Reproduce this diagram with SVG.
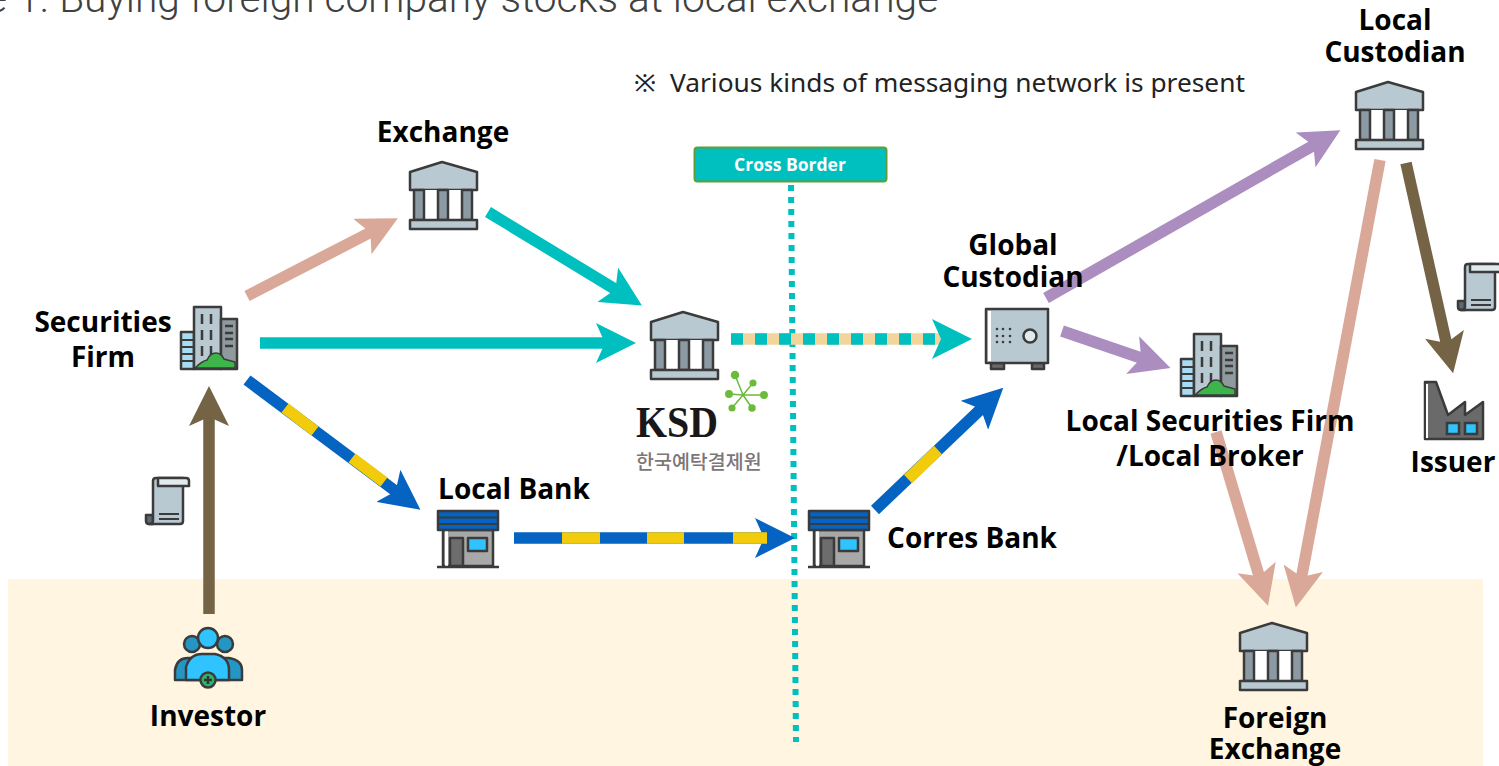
<svg xmlns="http://www.w3.org/2000/svg" width="1499" height="766" viewBox="0 0 1499 766">
<style>
text{font-family:"Open Sans","Noto Sans CJK KR",sans-serif}
.l{font-weight:700;font-size:28px;fill:#000;text-anchor:middle}
.a{fill:none;stroke-width:11.5}
.ol{stroke:#3b3b3b;stroke-width:2.5;stroke-linejoin:round}
.g{fill:#b9c9d1}
</style>
<defs>
<marker id="mT" markerUnits="userSpaceOnUse" markerWidth="40" markerHeight="40" viewBox="0 0 40 40" refX="12" refY="20" orient="auto"><path d="M0,0L40,20L0,40L9,20z" fill="#00bfbf"/></marker>
<marker id="mP" markerUnits="userSpaceOnUse" markerWidth="40" markerHeight="40" viewBox="0 0 40 40" refX="12" refY="20" orient="auto"><path d="M0,0L40,20L0,40L9,20z" fill="#d9a898"/></marker>
<marker id="mB" markerUnits="userSpaceOnUse" markerWidth="40" markerHeight="40" viewBox="0 0 40 40" refX="12" refY="20" orient="auto"><path d="M0,0L40,20L0,40L9,20z" fill="#0563c1"/></marker>
<marker id="mV" markerUnits="userSpaceOnUse" markerWidth="40" markerHeight="40" viewBox="0 0 40 40" refX="12" refY="20" orient="auto"><path d="M0,0L40,20L0,40L9,20z" fill="#ab8dbf"/></marker>
<marker id="mN" markerUnits="userSpaceOnUse" markerWidth="40" markerHeight="40" viewBox="0 0 40 40" refX="12" refY="20" orient="auto"><path d="M0,0L40,20L0,40L9,20z" fill="#746344"/></marker>
<symbol id="bank" overflow="visible">
<path class="ol g" d="M1,11L33,1L68,11V29H1z"/>
<path d="M15,29H29V59H15zM39,29H53V59H39z" fill="#fff"/>
<path class="ol" d="M5,29H15V59H5zM29,29H39V59H29zM53,29H63V59H53z" fill="#8b9aa3"/>
<path class="ol g" d="M1,59H68V68H1z"/>
</symbol>
<symbol id="building" overflow="visible">
<path class="ol" d="M1,26H14V63H1z" fill="#a9dcf2"/>
<path d="M2,34H13M2,41H13M2,48H13M2,55H13" stroke="#3b3b3b" stroke-width="2"/>
<path class="ol g" d="M14,1H41V63H14z"/>
<path class="ol" d="M41,13H57V63H41z" fill="#8f9a9f"/>
<path d="M22,8V18M31,8V18M22,24V34M31,24V34M22,40V50M31,40V50M45,20H53M45,27H53M45,33H53M45,40H53" stroke="#3b3b3b" stroke-width="2.5" fill="none"/>
<path d="M15,62Q22,55 27,54Q30,47 36,47Q41,47 44,53L55,56V62z" fill="#3cb54a" stroke="#3b3b3b" stroke-width="1.5"/>
</symbol>
<symbol id="shop" overflow="visible">
<path class="ol" d="M6,20H56V56H6z" fill="#a8a8a8"/>
<path d="M8,20H11V56H8z" fill="#fff"/>
<path class="ol" d="M13,28H26V56H13z" fill="#6d6d6d"/>
<path class="ol" d="M31,28H50V41H31z" fill="#2fc3ff"/>
<path class="ol" d="M1,1H61V20H1z" fill="#0563c1"/>
<path d="M1,7.5H61M1,14H61" stroke="#3b3b3b" stroke-width="2"/>
<path d="M0,57H62" stroke="#3b3b3b" stroke-width="2.5"/>
</symbol>
<symbol id="scroll" overflow="visible">
<path class="ol" d="M1,38H8V47H4Q1,47 1,44z" fill="#5b6b73"/>
<path class="ol g" d="M8,4Q8,1 11,1H38V44Q38,47 35,47H4Q8,47 8,44z"/>
<path class="ol" d="M13,1H41Q44,1 44,4V9H13z" fill="#e3eaec"/>
<path d="M14,37H34M14,42H34" stroke="#3b3b3b" stroke-width="2"/>
</symbol>
</defs>
<rect width="1499" height="766" fill="#fff"/>
<rect x="8" y="579" width="1475" height="187" fill="#fff5e0"/>
<text x="-14" y="12" font-size="40.700" style="font-family:Roboto,sans-serif;font-weight:300" fill="#404040">e 1. Buying foreign company stocks at local exchange</text>
<text x="634" y="92" font-size="26.300" style="font-family:'Noto Sans','Noto Sans CJK KR',sans-serif" fill="#222">※<tspan x="670">Various kinds of messaging network is present</tspan></text>

<g id="connectors">
<path d="M791,185L796,742" fill="none" stroke="#00bfbf" stroke-width="6" stroke-dasharray="6 6"/>
<path class="a" stroke="#d9a898" marker-end="url(#mP)" d="M247,296L373,231"/>
<path class="a" stroke="#00bfbf" marker-end="url(#mT)" d="M488,212L618,291"/>
<path class="a" stroke="#00bfbf" marker-end="url(#mT)" d="M260,343H608"/>
<path class="a" stroke="#0563c1" marker-end="url(#mB)" d="M247,380L398,493"/>
<path class="a" stroke="#f2cc0c" d="M285,408L315,431M352,458L384,482"/>
<path class="a" stroke="#0563c1" marker-end="url(#mB)" d="M514,538H767"/>
<path class="a" stroke="#f2cc0c" d="M562,538H600M647,538H684M733,538H767"/>
<path class="a" stroke="#0563c1" marker-end="url(#mB)" d="M875,510L983,407"/>
<path class="a" stroke="#f2cc0c" d="M908,479L938,450"/>
<path class="a" stroke="#f2d59c" marker-end="url(#mT)" d="M731,339H944"/>
<path class="a" stroke="#00bfbf" stroke-dasharray="12 12" d="M731,339H944"/>
<path class="a" stroke="#ab8dbf" marker-end="url(#mV)" d="M1046,298L1316,144"/>
<path class="a" stroke="#ab8dbf" marker-end="url(#mV)" d="M1062,331L1144,359"/>
<path class="a" stroke="#d9a898" marker-end="url(#mP)" d="M1380,160L1301,580"/>
<path class="a" stroke="#d9a898" marker-end="url(#mP)" d="M1216,432L1260,579"/>
<path class="a" stroke="#746344" marker-end="url(#mN)" d="M1406,163L1447,346"/>
<path class="a" stroke="#746344" marker-end="url(#mN)" d="M209,614V414"/>
</g>

<g id="cross-border"><rect x="694.500" y="147.500" width="192" height="34" rx="3" fill="#00bfbf" stroke="#5f9e3a" stroke-width="2"/><text x="790" y="171" font-size="17.500" font-weight="700" fill="#fff" text-anchor="middle">Cross Border</text></g>
<g id="securities-firm"><use href="#building" x="180" y="306"/><text class="l" x="103" y="332">Securities</text><text class="l" x="103" y="367">Firm</text></g>
<g id="exchange"><use href="#bank" x="409" y="161"/><text class="l" x="443" y="142">Exchange</text></g>
<g id="ksd"><use href="#bank" x="650" y="311"/>
<g stroke="#6cbb3c" stroke-width="1.500" fill="#6cbb3c"><path d="M743,395L735,375M743,395L753,383M743,395L764,395M743,395L752,408M743,395L732,408M743,395L729,394"/><circle cx="735" cy="375" r="3.500"/><circle cx="753" cy="383" r="2.800"/><circle cx="764" cy="395" r="3.200"/><circle cx="752" cy="408" r="3"/><circle cx="732" cy="408" r="2.800"/><circle cx="729" cy="394" r="3.200"/></g>
<text x="636" y="437" font-size="45" textLength="82" lengthAdjust="spacingAndGlyphs" style="font-family:'Liberation Serif',serif" font-weight="700" fill="#1a1718">KSD</text>
<text x="636" y="469" font-size="19.500" style="font-family:'Noto Sans CJK KR',sans-serif" font-weight="500" fill="#7d7577">한국예탁결제원</text></g>
<g id="local-bank"><use href="#shop" x="437" y="510"/><text class="l" x="514" y="499">Local Bank</text></g>
<g id="corres-bank"><use href="#shop" x="808" y="510"/><text class="l" x="972" y="548">Corres Bank</text></g>
<g id="global-custodian">
<path class="ol" d="M991,363H1004V369H991zM1032,363H1044V369H1032z" fill="#6a6a6a"/>
<path class="ol g" d="M986,309H1048V363H986z"/>
<path d="M988,311H991V361H988z" fill="#fff"/>
<g fill="#3b3b3b"><circle cx="997" cy="329" r="1.300"/><circle cx="1003" cy="329" r="1.300"/><circle cx="1010" cy="329" r="1.300"/><circle cx="997" cy="336" r="1.300"/><circle cx="1003" cy="336" r="1.300"/><circle cx="1010" cy="336" r="1.300"/><circle cx="997" cy="342" r="1.300"/><circle cx="1003" cy="342" r="1.300"/><circle cx="1010" cy="342" r="1.300"/></g>
<circle cx="1030" cy="336" r="6.500" fill="#e3eaec" stroke="#3b3b3b" stroke-width="2.500"/>
<text class="l" x="1013" y="255">Global</text><text class="l" x="1013" y="287">Custodian</text></g>
<g id="local-custodian"><use href="#bank" x="1355" y="81"/><text class="l" x="1395" y="30">Local</text><text class="l" x="1395" y="62">Custodian</text></g>
<g id="local-securities-firm"><use href="#building" x="1180" y="333"/><text class="l" x="1210" y="431">Local Securities Firm</text><text class="l" x="1210" y="466">/Local Broker</text></g>
<g id="issuer"><path class="ol" d="M1425,382H1436L1448,415L1465,402V415L1483,402V439H1425z" fill="#6a6a6a"/><path d="M1426,384H1428V438H1426z" fill="#fff"/><rect x="1447" y="423" width="12" height="11" fill="#2fc3ff" stroke="#3b3b3b" stroke-width="2.500"/><rect x="1465" y="423" width="12" height="11" fill="#2fc3ff" stroke="#3b3b3b" stroke-width="2.500"/><text class="l" x="1453" y="472">Issuer</text></g>
<g id="investor">
<circle cx="192" cy="644" r="8" fill="#2596c4" stroke="#3b3b3b" stroke-width="2.500"/><circle cx="225" cy="644" r="8" fill="#2596c4" stroke="#3b3b3b" stroke-width="2.500"/>
<circle cx="208" cy="638" r="10" fill="#2fc3ff" stroke="#3b3b3b" stroke-width="2.500"/>
<path class="ol" d="M175,680V670Q177,658 188,658H229Q242,660 242,670V680z" fill="#2596c4"/>
<path class="ol" d="M186,680V667Q190,654 202,654H215Q229,657 229,670V680z" fill="#2fc3ff"/>
<circle cx="208" cy="680" r="7.500" fill="#2fb56a" stroke="#3b3b3b" stroke-width="2.500"/><path d="M204,680H212M208,676V684" stroke="#333" stroke-width="2.500"/>
<text class="l" x="208" y="726">Investor</text></g>
<g id="foreign-exchange"><use href="#bank" x="1239" y="622"/><text class="l" x="1275" y="728">Foreign</text><text class="l" x="1275" y="759">Exchange</text></g>
<use href="#scroll" x="145" y="477"/>
<use href="#scroll" x="1457" y="263"/>
</svg>
